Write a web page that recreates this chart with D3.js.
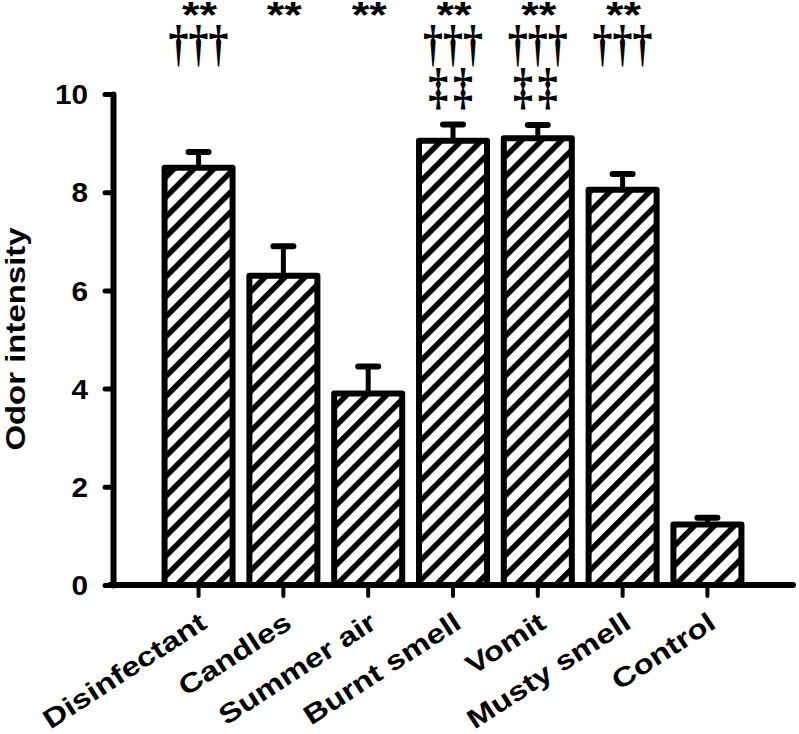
<!DOCTYPE html>
<html>
<head>
<meta charset="utf-8">
<script src="https://cdn.jsdelivr.net/npm/d3@7"></script>
<style>
  body { margin: 0; background: #fff; }
  text { font-family: "Liberation Sans", Arial, sans-serif; font-weight: bold; fill: #000; }
</style>
</head>
<body>
<svg id="chart"></svg>
<script>
const w = 799;
const h = 734;

// data
const categories = ["Disinfectant", "Candles", "Summer air", "Burnt smell", "Vomit", "Musty smell", "Control"];
const means = [8.5, 6.3, 3.9, 9.05, 9.1, 8.05, 1.23];
const errors = [0.32, 0.6, 0.55, 0.33, 0.27, 0.32, 0.14];
const stars = ["**", "**", "**", "**", "**", "**", ""];
const daggers = ["\u2020\u2020\u2020", "", "", "\u2020\u2020\u2020", "\u2020\u2020\u2020", "\u2020\u2020\u2020", ""];
const ddaggers = ["", "", "", "\u2021\u2021", "\u2021\u2021", "", ""];
const yTicks = [0, 2, 4, 6, 8, 10];

const svg = d3.select('#chart')
    .attr('width', w)
    .attr('height', h);

// hatch pattern
svg.append('defs').append('pattern')
    .attr('id', 'hatch')
    .attr('patternUnits', 'userSpaceOnUse')
    .attr('width', 14.1)
    .attr('height', 14.1)
    .attr('patternTransform', 'rotate(45)')
  .call(p => {
    p.append('rect').attr('width', 14.1).attr('height', 14.1).attr('fill', '#fff');
    p.append('rect').attr('x', 0).attr('width', 5.5).attr('height', 14.1).attr('fill', '#000');
  });

const xScale = d3.scaleBand()
    .domain(categories)
    .range([113, 793])
    .paddingInner(0.198)
    .paddingOuter(0.608);

const yScale = d3.scaleLinear()
    .domain([0, 10])
    .range([585, 94]);

const fs = 27;
const sx = 1.22; // text looks horizontally stretched

// error bars (drawn first, bar covers lower part)
const eb = svg.append('g');
categories.forEach((c, i) => {
  const cx = xScale(c) + xScale.bandwidth() / 2;
  eb.append('line')
      .attr('x1', cx).attr('x2', cx)
      .attr('y1', yScale(means[i])).attr('y2', yScale(means[i] + errors[i]))
      .attr('stroke', '#000').attr('stroke-width', 5);
  eb.append('line')
      .attr('x1', cx - 10).attr('x2', cx + 10)
      .attr('y1', yScale(means[i] + errors[i])).attr('y2', yScale(means[i] + errors[i]))
      .attr('stroke', '#000').attr('stroke-width', 6).attr('stroke-linecap', 'round');
});

svg.selectAll('rect.bar')
    .data(categories)
    .enter()
    .append('rect')
    .attr('class', 'bar')
    .attr('x', d => xScale(d))
    .attr('y', (d, i) => yScale(means[i]))
    .attr('width', xScale.bandwidth())
    .attr('height', (d, i) => yScale(0) - yScale(means[i]))
    .attr('fill', 'url(#hatch)')
    .attr('stroke', '#000')
    .attr('stroke-width', 6)
    .attr('stroke-linejoin', 'round');

// y axis
const yAxis = d3.axisLeft(yScale)
    .tickValues(yTicks)
    .tickSize(8)
    .tickSizeOuter(0)
    .tickFormat(d3.format('d'));

const gy = svg.append('g')
    .attr('transform', 'translate(113,0)')
    .call(yAxis);
gy.select('.domain').attr('stroke-width', 6).attr('stroke-linecap', 'round');
gy.selectAll('.tick line').attr('stroke-width', 5).attr('stroke-linecap', 'round');
gy.selectAll('.tick text')
    .attr('x', null)
    .attr('dy', '0.36em')
    .attr('transform', 'translate(-25,0) scale(1.1,1)')
    .attr('font-size', fs)
    .attr('font-family', null);

// x axis
const xAxis = d3.axisBottom(xScale)
    .tickSize(11)
    .tickSizeOuter(0);

const gx = svg.append('g')
    .attr('transform', 'translate(0,585)')
    .call(xAxis);
gx.select('.domain').remove();
gx.append('line')
    .attr('x1', 110).attr('x2', 793)
    .attr('stroke', '#000').attr('stroke-width', 6).attr('stroke-linecap', 'round');
gx.selectAll('.tick line').attr('stroke-width', 4).attr('stroke-linecap', 'round');
gx.selectAll('.tick text')
    .attr('y', null)
    .attr('dy', null)
    .attr('text-anchor', 'end')
    .attr('font-size', fs)
    .attr('font-family', null)
    .attr('transform', 'translate(10,42) rotate(-33) scale(' + sx + ',1)');

// y title
svg.append('text')
    .attr('transform', 'translate(25,339) rotate(-90) scale(' + sx + ',1)')
    .attr('text-anchor', 'middle')
    .attr('font-size', fs)
    .text('Odor intensity');

// significance marks
const marks = svg.append('g');
categories.forEach((c, i) => {
  const cx = xScale(c) + xScale.bandwidth() / 2;
  marks.append('text')
      .attr('transform', 'translate(' + (cx + 1) + ',28) scale(1.25,1)')
      .attr('text-anchor', 'middle')
      .attr('font-size', 36)
      .text(stars[i]);
  marks.append('text')
      .attr('transform', 'translate(' + cx + ',60) scale(0.8,1)')
      .attr('text-anchor', 'middle')
      .attr('font-size', 50)
      .style('font-family', '"Liberation Serif", "Times New Roman", serif')
      .text(daggers[i]);
  marks.append('text')
      .attr('transform', 'translate(' + cx + ',103) scale(0.8,1)')
      .attr('text-anchor', 'middle')
      .attr('font-size', 50)
      .attr('letter-spacing', 6)
      .style('font-family', '"Liberation Serif", "Times New Roman", serif')
      .text(ddaggers[i]);
});
</script>
</body>
</html>
